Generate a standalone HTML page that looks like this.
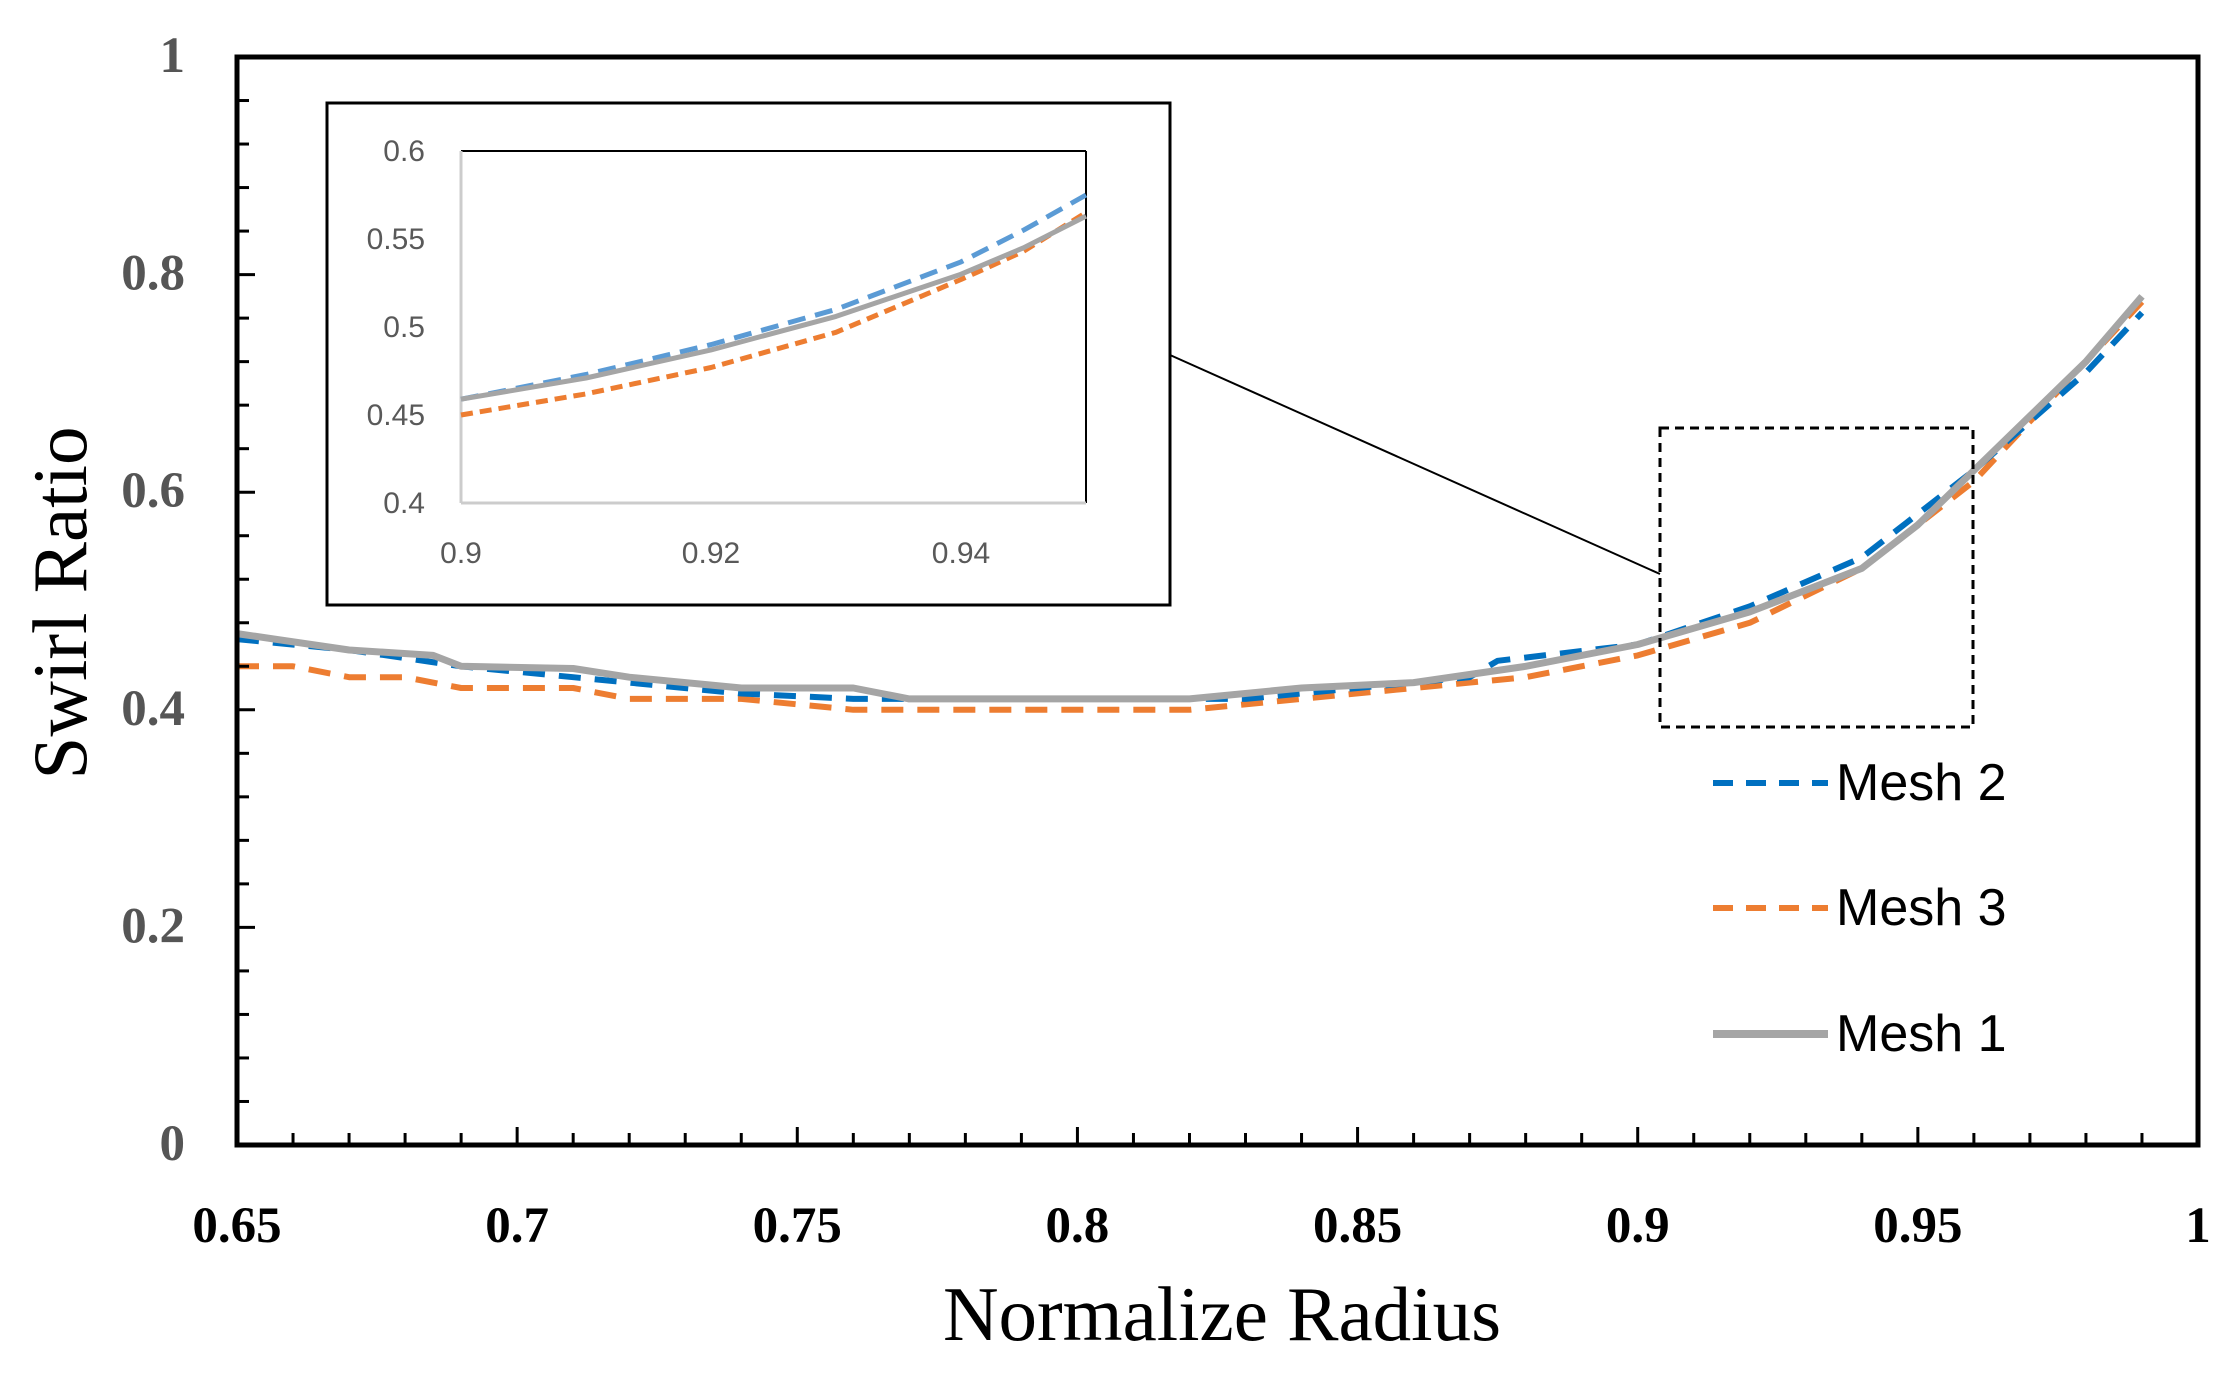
<!DOCTYPE html>
<html><head><meta charset="utf-8"><style>
html,body{margin:0;padding:0;background:#fff;}
svg{display:block;}
</style></head><body>
<svg id="chart" width="2240" height="1376" xmlns="http://www.w3.org/2000/svg"></svg>
<script>
const mainX1 = [0.65,0.67,0.685,0.69,0.71,0.72,0.74,0.76,0.77,0.8,0.82,0.84,0.86,0.88,0.9,0.92,0.94,0.95,0.96,0.97,0.98,0.99];
const mesh1Y = [0.47,0.455,0.45,0.44,0.438,0.43,0.42,0.42,0.41,0.41,0.41,0.42,0.425,0.44,0.46,0.49,0.53,0.57,0.62,0.67,0.72,0.78];
const mainX2 = [0.65,0.67,0.69,0.71,0.74,0.76,0.8,0.83,0.85,0.87,0.875,0.9,0.92,0.94,0.96,0.97,0.98,0.99];
const mesh2Y = [0.465,0.455,0.44,0.43,0.415,0.41,0.41,0.41,0.42,0.43,0.445,0.46,0.495,0.54,0.62,0.665,0.71,0.765];
const mainX3 = [0.65,0.66,0.67,0.68,0.69,0.71,0.72,0.74,0.76,0.8,0.82,0.84,0.86,0.88,0.9,0.92,0.94,0.96,0.98,0.99];
const mesh3Y = [0.44,0.44,0.43,0.43,0.42,0.42,0.41,0.41,0.40,0.40,0.40,0.41,0.42,0.43,0.45,0.48,0.53,0.61,0.72,0.775];
const insetX = [0.9,0.91,0.92,0.93,0.94,0.945,0.95];
const insetMesh1 = [0.459,0.471,0.487,0.506,0.53,0.545,0.563];
const insetMesh2 = [0.459,0.473,0.49,0.51,0.537,0.555,0.575];
const insetMesh3 = [0.45,0.462,0.477,0.497,0.527,0.543,0.565];
const xTickLabels = ["0.65","0.7","0.75","0.8","0.85","0.9","0.95","1"];
const yTickLabels = ["0","0.2","0.4","0.6","0.8","1"];
const insetXTicks = ["0.9","0.92","0.94"];
const insetYTicks = ["0.4","0.45","0.5","0.55","0.6"];

const NS="http://www.w3.org/2000/svg";
const svg=document.getElementById('chart');
function el(tag,attrs,parent,text){const e=document.createElementNS(NS,tag);for(const k in attrs)e.setAttribute(k,attrs[k]);if(text!==undefined)e.textContent=text;(parent||svg).appendChild(e);return e;}

const L=237,R=2198,T=57,B=1145;
const xs=v=>L+(v-0.65)/0.35*(R-L);
const ys=v=>B-v*(B-T);

function series(xa,ya,sx,sy,stroke,w,dash,name){
  const d=xa.map((x,i)=>(i?'L':'M')+sx(x).toFixed(1)+' '+sy(ya[i]).toFixed(1)).join(' ');
  const p=el('path',{d:d,fill:'none',stroke:stroke,'stroke-width':w,'stroke-linejoin':'round'});
  if(dash)p.setAttribute('stroke-dasharray',dash);
  
  
}
series(mainX3,mesh3Y,xs,ys,'#ED7D31',6,'22 14','mesh3-line');
series(mainX2,mesh2Y,xs,ys,'#0070C0',6,'22 14','mesh2-line');
series(mainX1,mesh1Y,xs,ys,'#A5A5A5',7,null,'mesh1-line');

const fr=el('rect',{x:L,y:T,width:R-L,height:B-T,fill:'none',stroke:'#000','stroke-width':5});


for(let i=0;i<=35;i++){const v=0.65+i*0.01;const major=i%5===0;
  el('line',{x1:xs(v),x2:xs(v),y1:B,y2:B-(major?18:12),stroke:'#000','stroke-width':3});}
xTickLabels.forEach((t,i)=>{const v=0.65+i*0.05;
  const e=el('text',{x:xs(v),y:1242,'text-anchor':'middle','font-family':'Liberation Serif, serif','font-weight':'bold','font-size':51,fill:'#000'},svg,t);
  });
for(let i=0;i<=25;i++){const v=i*0.04;const major=(i*4)%20===0;
  el('line',{x1:L,x2:L+(major?18:12),y1:ys(v),y2:ys(v),stroke:'#000','stroke-width':3});}
yTickLabels.forEach((t,i)=>{const v=i*0.2;
  const e=el('text',{x:185,y:ys(v)+15,'text-anchor':'end','font-family':'Liberation Serif, serif','font-weight':'bold','font-size':51,fill:'#555'},svg,t);
  });

let e=el('text',{x:1222,y:1340,'text-anchor':'middle','font-family':'Liberation Serif, serif','font-size':77,fill:'#000'},svg,'Normalize Radius');

e=el('text',{x:0,y:0,transform:'translate(86,603) rotate(-90)','text-anchor':'middle','font-family':'Liberation Serif, serif','font-size':77,fill:'#000'},svg,'Swirl Ratio');


e=el('rect',{x:1660,y:428,width:313,height:299,fill:'none',stroke:'#000','stroke-width':3,'stroke-dasharray':'9 6'});

e=el('line',{x1:1170,y1:355,x2:1660,y2:574,stroke:'#000','stroke-width':2});


e=el('rect',{x:327,y:103,width:843,height:502,fill:'#fff',stroke:'#000','stroke-width':3});

const iL=461,iR=1086,iT=151,iB=503;
const ixs=v=>iL+(v-0.9)/0.05*(iR-iL);
const iys=v=>iB-(v-0.4)/0.2*(iB-iT);
el('line',{x1:iL,y1:iT,x2:iR,y2:iT,stroke:'#000','stroke-width':2});
el('line',{x1:iR,y1:iT,x2:iR,y2:iB,stroke:'#000','stroke-width':2});
el('line',{x1:iL,y1:iT,x2:iL,y2:iB,stroke:'#ccc','stroke-width':3});
el('line',{x1:iL,y1:iB,x2:iR,y2:iB,stroke:'#ccc','stroke-width':3});
series(insetX,insetMesh3,ixs,iys,'#ED7D31',5,'12 7','inset-mesh3-line');
series(insetX,insetMesh2,ixs,iys,'#5B9BD5',5,'18 10','inset-mesh2-line');
series(insetX,insetMesh1,ixs,iys,'#A5A5A5',5,null,'inset-mesh1-line');
insetXTicks.forEach((t,i)=>{const v=0.9+i*0.02;
  const k=el('text',{x:ixs(v),y:563,'text-anchor':'middle','font-family':'Liberation Sans, sans-serif','font-size':30,fill:'#595959'},svg,t);
  });
insetYTicks.forEach((t,i)=>{const v=0.4+i*0.05;
  const k=el('text',{x:425,y:iys(v)+10,'text-anchor':'end','font-family':'Liberation Sans, sans-serif','font-size':30,fill:'#595959'},svg,t);
  });

const leg=[['Mesh 2','#0070C0','20 13',783],['Mesh 3','#ED7D31','20 13',908],['Mesh 1','#A5A5A5',null,1034]];
leg.forEach(l=>{
  const g=el('g',{});
  
  
  const ln=el('line',{x1:1713,x2:1828,y1:l[3],y2:l[3],stroke:l[1],'stroke-width':l[2]?6:8},g);
  if(l[2])ln.setAttribute('stroke-dasharray',l[2]);
  el('text',{x:1836,y:l[3]+17,'font-family':'Liberation Sans, sans-serif','font-size':52,fill:'#000'},g,l[0]);
});
</script>
</body></html>
